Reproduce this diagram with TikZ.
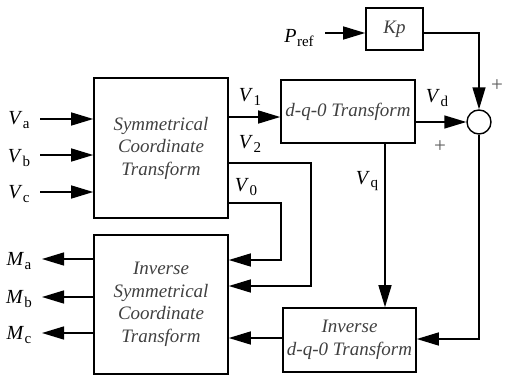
\documentclass[tikz,border=0pt]{standalone}
\usepackage{fontspec}
\setmainfont{Liberation Serif}
\usetikzlibrary{arrows.meta,calc}
\newcommand{\lblsub}[2]{\textit{#1}\kern0.5pt\raisebox{-0.4ex}{\fontsize{15}{15}\selectfont #2}}
\begin{document}
\begin{tikzpicture}[x=1pt,y=-1pt,
  blk/.style={draw, line width=1.6pt, rectangle, inner sep=0pt, align=center,
    font=\fontsize{19}{22.5}\selectfont\itshape, text=black!75},
  con/.style={line width=1.4pt},
  arr/.style={con, -{Triangle[length=22pt,width=13pt]}},
  lbl/.style={inner sep=0pt, font=\fontsize{20}{20}\selectfont},
  pm/.style={inner sep=0pt, font=\fontsize{21}{21}\selectfont, text=black!65}]
\useasboundingbox (0,0) rectangle (505,380);
% blocks
\node[blk, minimum width=134pt, minimum height=140pt] (sym) at (161,148) {Symmetrical\\Coordinate\\Transform};
\node[blk, minimum width=134pt, minimum height=63pt] (dq) at (348,111.5) {d-q-0 Transform};
\node[blk, minimum width=57pt, minimum height=42pt] (kp) at (394.5,29) {Kp};
\node[draw, circle, line width=1.4pt, minimum size=24pt, inner sep=0pt] (sum) at (479,122) {};
\node[blk, minimum width=134pt, minimum height=139pt] (isym) at (161,304.5) {Inverse\\Symmetrical\\Coordinate\\Transform};
\node[blk, minimum width=133pt, minimum height=64pt] (idq) at (349.5,340) {Inverse\\d-q-0 Transform};
% labels
\node[lbl] (pref) at (299,38) {\lblsub{P}{ref}};
\node[lbl] (va) at (19,120) {\lblsub{V}{a}};
\node[lbl] (vb) at (19,158) {\lblsub{V}{b}};
\node[lbl] (vc) at (19,194) {\lblsub{V}{c}};
\node[lbl] (ma) at (19,261) {\lblsub{M}{a}};
\node[lbl] (mb) at (19,299) {\lblsub{M}{b}};
\node[lbl] (mc) at (19,335) {\lblsub{M}{c}};
\node[lbl] (v1) at (250,97) {\lblsub{V}{1}};
\node[lbl] (v2) at (250,144) {\lblsub{V}{2}};
\node[lbl] (v0) at (246,187) {\lblsub{V}{0}};
\node[lbl] (vd) at (437,98) {\lblsub{V}{d}};
\node[lbl] (vq) at (367,181) {\lblsub{V}{q}};
\node[pm] (p1) at (497,86) {+};
\node[pm] (p2) at (440,147) {+};
% coordinates
\coordinate (prefs) at (325,33);
\coordinate (kpc) at (479,33);
\coordinate (vas) at (40,119);
\coordinate (vbs) at (40,155);
\coordinate (vcs) at (40,192);
\coordinate (mae) at (42,259);
\coordinate (mbe) at (42,297);
\coordinate (mce) at (42,333);
\coordinate (c1) at (311,163);
\coordinate (c2) at (311,286);
\coordinate (c3) at (281,203);
\coordinate (c4) at (281,260);
\coordinate (sb) at (479,339);
% connectors
\draw[arr] (prefs) -- (kp.west |- prefs);
\draw[arr] (kp.east |- kpc) -- (kpc) -- (sum.north);
\draw[arr] (vas) -- (sym.west |- vas);
\draw[arr] (vbs) -- (sym.west |- vbs);
\draw[arr] (vcs) -- (sym.west |- vcs);
\draw[arr] (sym.east |- 0,117) -- (dq.west |- 0,117);
\draw[arr] (dq.east |- sum.west) -- (sum.west);
\draw[arr] (sym.east |- c1) -- (c1) -- (c2) -- (isym.east |- c2);
\draw[arr] (sym.east |- c3) -- (c3) -- (c4) -- (isym.east |- c4);
\draw[arr] (dq.south -| 385,0) -- (idq.north -| 385,0);
\draw[arr] (sum.south) -- (sb) -- (idq.east |- sb);
\draw[arr] (idq.west |- 0,338) -- (isym.east |- 0,338);
\draw[arr] (isym.west |- mae) -- (mae);
\draw[arr] (isym.west |- mbe) -- (mbe);
\draw[arr] (isym.west |- mce) -- (mce);
\end{tikzpicture}
\end{document}
